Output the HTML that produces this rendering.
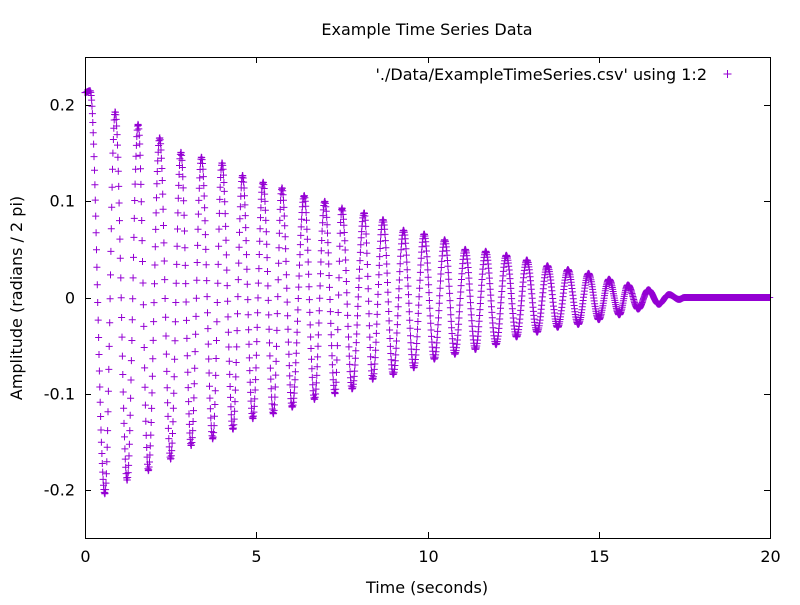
<!DOCTYPE html>
<html><head><meta charset="utf-8"><style>
html,body{margin:0;padding:0;background:#fff}
svg text{font-family:"DejaVu Sans","Liberation Sans",sans-serif;font-size:16px;fill:#000}
</style></head><body>
<svg id="chart" width="800" height="600" viewBox="0 0 800 600" xmlns="http://www.w3.org/2000/svg">
<rect width="800" height="600" fill="#fff"/>
<text x="427" y="35" text-anchor="middle">Example Time Series Data</text>
<text x="427" y="593" text-anchor="middle">Time (seconds)</text>
<text transform="translate(22,298) rotate(-90)" text-anchor="middle">Amplitude (radians / 2 pi)</text>
<g id="axes"></g>
<g id="marks"></g>
<rect x="85.5" y="57.5" width="685" height="481" fill="none" stroke="#000" stroke-width="1"/>
<text x="707" y="80" text-anchor="end">'./Data/ExampleTimeSeries.csv' using 1:2</text>
<path d="M723.5,74 h8 M727.5,70 v8" stroke="#9400d3" stroke-width="1"/>
</svg>
<script>
// extrema of the recorded signal (pixel-read), alternating peaks/troughs
const extremaTimes = [0, 0.15, 0.58, 0.88, 1.23, 1.55, 1.85, 2.18, 2.5, 2.8, 3.1, 3.4, 3.73, 4.0, 4.32, 4.6, 4.9, 5.2, 5.5, 5.75, 6.05, 6.4, 6.7, 7.0, 7.3, 7.5, 7.8, 8.15, 8.4, 8.7, 9.0, 9.3, 9.6, 9.9, 10.2, 10.5, 10.8, 11.1, 11.4, 11.7, 12.0, 12.3, 12.6, 12.9, 13.2, 13.5, 13.8, 14.1, 14.4, 14.7, 15.0, 15.3, 15.6, 15.85, 16.15, 16.45, 16.75, 17.05, 17.35, 17.5];
const extremaValues = [0.213, 0.215, -0.204, 0.193, -0.19, 0.18, -0.18, 0.166, -0.168, 0.151, -0.154, 0.146, -0.147, 0.14, -0.137, 0.127, -0.126, 0.12, -0.121, 0.114, -0.114, 0.106, -0.106, 0.10, -0.10, 0.093, -0.095, 0.088, -0.085, 0.081, -0.08, 0.07, -0.073, 0.066, -0.064, 0.06, -0.059, 0.05, -0.054, 0.048, -0.049, 0.044, -0.041, 0.039, -0.036, 0.033, -0.031, 0.029, -0.028, 0.025, -0.023, 0.019, -0.018, 0.013, -0.012, 0.008, -0.007, 0.003, -0.002, 0];
const xTicks = [0, 5, 10, 15, 20];
const yTicks = [-0.2, -0.1, 0, 0.1, 0.2];
const yTickLabels = ["-0.2", "-0.1", "0", "0.1", "0.2"];
const sampleDt = 0.012, tEnd = 20;

const X0=85, X1=770, Y0=538, Y1=57;
const xScale = t => X0 + (t-0)/(20-0)*(X1-X0);
const yScale = v => Y0 - (v+0.25)/0.5*(Y0-Y1);
const NS="http://www.w3.org/2000/svg";
const axes=document.getElementById('axes');
function line(x1,y1,x2,y2,name){
  const l=document.createElementNS(NS,'line');
  l.setAttribute('x1',x1);l.setAttribute('y1',y1);l.setAttribute('x2',x2);l.setAttribute('y2',y2);
  l.setAttribute('stroke','#000');l.setAttribute('stroke-width','1');
  
  
  axes.appendChild(l);
}
function text(x,y,s,anchor,name){
  const t=document.createElementNS(NS,'text');
  t.setAttribute('x',x);t.setAttribute('y',y);t.setAttribute('text-anchor',anchor);t.textContent=s;
  
  
  axes.appendChild(t);
}
xTicks.forEach(v=>{const x=Math.round(xScale(v))+0.5;line(x,Y0,x,Y0-6,'x-tick');line(x,Y1,x,Y1+6,'x-tick-mirror');text(x,Y0+24,String(v),'middle','x-tick-label');});
yTicks.forEach((v,i)=>{const y=Math.round(yScale(v))+0.5;line(X0,y,X0+6,y,'y-tick');line(X1,y,X1-6,y,'y-tick-mirror');text(X0-10,y+5,yTickLabels[i],'end','y-tick-label');});

let d='';
function cross(t,v){const x=xScale(t),y=yScale(v);d+=`M${(x-3.5).toFixed(1)},${y.toFixed(1)}h7M${x.toFixed(1)},${(y-3.5).toFixed(1)}v7`;}
for(let t=0;t<=tEnd+1e-9;t+=sampleDt){
  let v=0;
  const n=extremaTimes.length;
  if(t<extremaTimes[n-1]){
    let k=0;while(k<n-2&&t>extremaTimes[k+1])k++;
    const a=extremaTimes[k],b=extremaTimes[k+1];
    const f=(t-a)/(b-a);const w=(1-Math.cos(Math.PI*f))/2;
    v=extremaValues[k]*(1-w)+extremaValues[k+1]*w;
  }
  cross(t,v);
}
const p=document.createElementNS(NS,'path');
p.setAttribute('d',d);p.setAttribute('stroke','#9400d3');p.setAttribute('stroke-width','1');p.setAttribute('fill','none');


document.getElementById('marks').appendChild(p);
</script>
</body></html>
